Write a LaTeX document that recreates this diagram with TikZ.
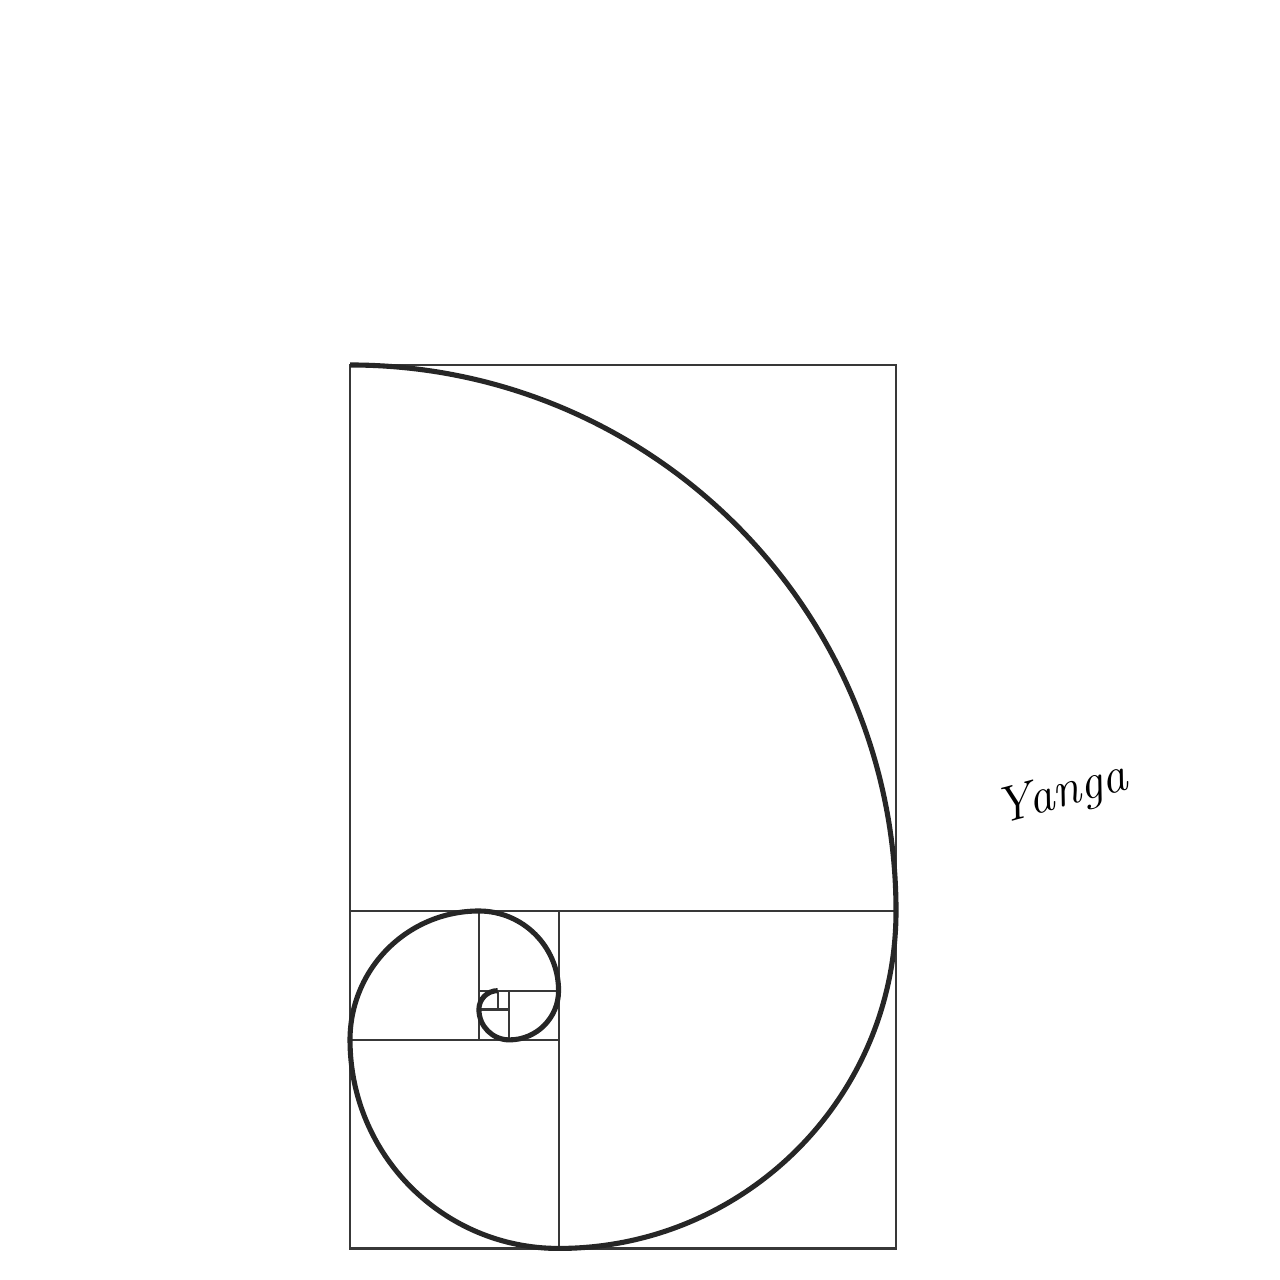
\documentclass[tikz,border=0pt]{standalone}
\begin{document}
\begin{tikzpicture}[grid line/.style={draw=black!78, line width=0.6pt},
		spiral line/.style={draw=black!85, line width=1.45pt}]
			\useasboundingbox (0,0) rectangle (12.8,12.8);
			% squares
			\draw[grid line] (3.50,0.3155) rectangle (8.96,9.15);
			\draw[grid line] (3.50,3.69) -- (8.96,3.69);
			\draw[grid line] (5.5855,0.3155) -- (5.5855,3.69);
			\draw[grid line] (3.50,2.401) -- (5.5855,2.401);
			\draw[grid line] (4.789,2.401) -- (4.789,3.69);
			\draw[grid line] (4.789,2.8934) -- (5.5855,2.8934);
			\draw[grid line] (5.0932,2.401) -- (5.0932,2.8934);
			\draw[grid line] (4.789,2.7053) -- (5.0932,2.7053);
			\draw[grid line] (4.977,2.7053) -- (4.977,2.8934);
			% spiral
			\draw[spiral line] (3.50,9.15)
			arc[start angle=90, end angle=0, radius=5.46cm]
			arc[start angle=0, end angle=-90, radius=3.3745cm]
			arc[start angle=-90, end angle=-180, radius=2.0855cm]
			arc[start angle=180, end angle=90, radius=1.289cm]
			arc[start angle=90, end angle=0, radius=0.7966cm]
			arc[start angle=0, end angle=-90, radius=0.4923cm]
			arc[start angle=-90, end angle=-180, radius=0.3043cm]
			arc[start angle=180, end angle=90, radius=0.1881cm];
			% signature
			\node[rotate=15, font=\Large\itshape] (sign) at (10.62,4.85) {Yanga};
		\end{tikzpicture}
\end{document}
